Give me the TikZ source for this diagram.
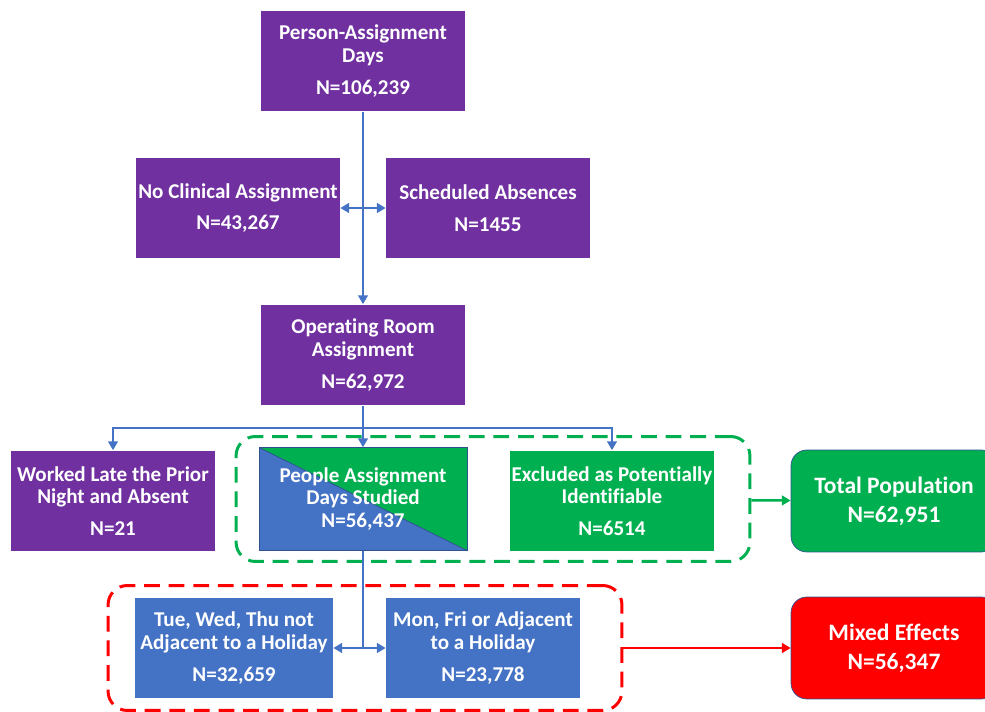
\documentclass[tikz,border=0pt]{standalone}
\usepackage{fontspec}
\setmainfont{Carlito}[Ligatures=CommonOff]
\usepackage{tikz}
\usetikzlibrary{arrows.meta,positioning,calc}
\definecolor{offpurple}{HTML}{7030A0}
\definecolor{offblue}{HTML}{4472C4}
\definecolor{offgreen}{HTML}{00B050}
\definecolor{offred}{HTML}{FF0000}
\definecolor{outline}{HTML}{2F528F}

\begin{document}
\begin{tikzpicture}[
  x=0.02cm,y=-0.02cm,
  box/.style={minimum width=4.08cm,minimum height=2.02cm,align=center,inner sep=0pt,
              font=\fontsize{12}{13}\selectfont\bfseries,text=white,fill=offpurple},
  split/.style={box,draw=outline,thin,fill=offgreen,minimum width=4.16cm,minimum height=2.06cm,
              path picture={\fill[offblue] (path picture bounding box.north west)
                 -- (path picture bounding box.south west)
                 -- (path picture bounding box.south east) -- cycle;
                 \draw[outline,thin] (path picture bounding box.north west)
                 -- (path picture bounding box.south east);}},
  endbox/.style={draw=outline,thin,rounded corners=9pt,minimum width=4.12cm,minimum height=2.04cm,
              align=center,inner sep=0pt,font=\fontsize{13.4}{16.4}\selectfont\bfseries,text=white},
  frame/.style={draw,line width=1.7pt,dash pattern=on 9pt off 5pt,rounded corners=11pt,
              minimum width=10.28cm,minimum height=2.5cm,inner sep=0pt},
  line/.style={line width=1.4pt,color=offblue},
  arr/.style={line,-{Triangle[length=5pt,width=5.5pt]}},
  darr/.style={line,{Triangle[length=5pt,width=5.5pt]}-{Triangle[length=5pt,width=5.5pt]}}
]
  \useasboundingbox (0,0) rectangle (985,712);

  % Top: all days
  \node[box] (person) at (363,61) {Person-Assignment\\Days\\[5pt]N=106,239};
  \node[box] (noclin) at (238,208) {No Clinical Assignment\\[5pt]N=43,267};
  \node[box] (sched) at (488,208) {Scheduled Absences\\[5pt]N=1455};
  \node[box] (orroom) at (363,355) {Operating Room\\Assignment\\[5pt]N=62,972};

  % Middle: split of OR days
  \node[box] (worked) at (113,501) {Worked Late the Prior\\Night and Absent\\[5pt]N=21};
  \node[split] (studied) at (363,499) {People Assignment\\Days Studied\\N=56,437};
  \node[box,fill=offgreen] (excluded) at (612,501) {Excluded as Potentially\\Identifiable\\[5pt]N=6514};
  \node[frame,draw=offgreen] (studyframe) at (493,499) {};
  \node[endbox,fill=offgreen] (total) at (894,501) {Total Population\\N=62,951};

  % Bottom: days of week
  \node[box,fill=offblue,minimum width=3.96cm] (tuewed) at (234,648) {Tue, Wed, Thu not\\Adjacent to a Holiday\\[5pt]N=32,659};
  \node[box,fill=offblue,minimum width=3.88cm] (monfri) at (483,648) {Mon, Fri or Adjacent\\to a Holiday\\[5pt]N=23,778};
  \node[frame,draw=offred] (dayframe) at (365,648) {};
  \node[endbox,fill=offred] (mixed) at (894,648) {Mixed Effects\\N=56,347};

  % Arrows
  \coordinate (branch) at (363,428);
  \coordinate (join) at (363,648);
  \draw[arr] (person) -- (orroom);
  \draw[darr] (noclin) -- (sched);
  \draw[arr] (orroom) -- (studied);
  \draw[arr] (branch) -| (worked);
  \draw[arr] (branch) -| (excluded);
  \draw[line] (studied) -- (join);
  \draw[darr] (tuewed) -- (monfri);
  \draw[line,color=offgreen,-{Triangle[length=5pt,width=5.5pt]}] (studyframe) -- (total);
  \draw[line,color=offred,-{Triangle[length=5pt,width=5.5pt]}] (dayframe) -- (mixed);
\end{tikzpicture}
\end{document}
